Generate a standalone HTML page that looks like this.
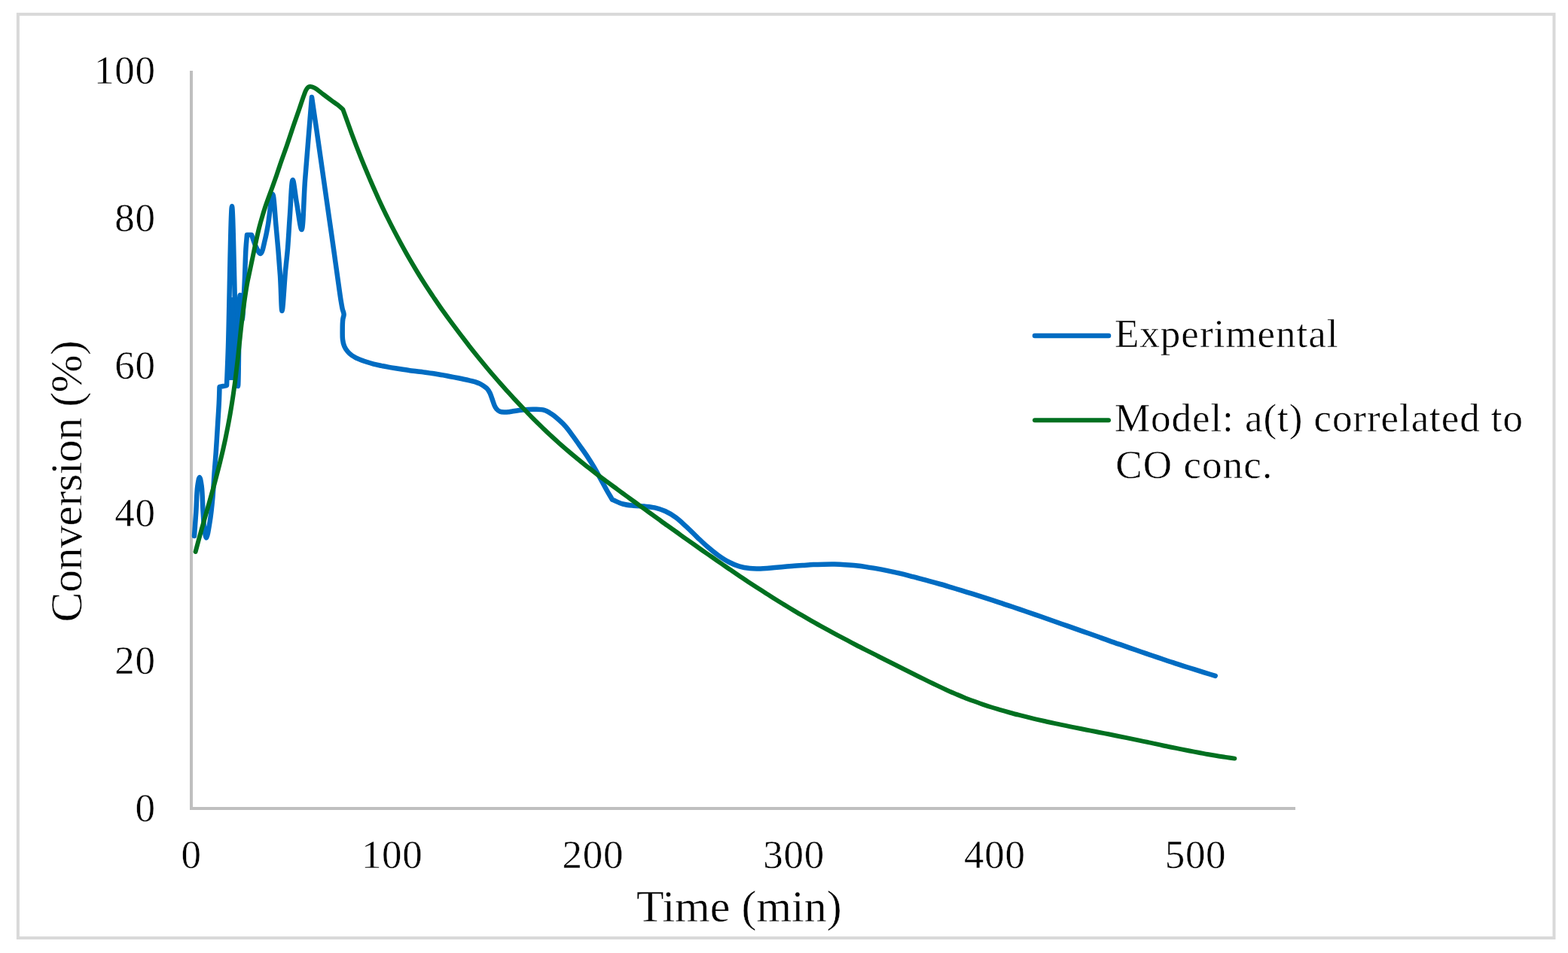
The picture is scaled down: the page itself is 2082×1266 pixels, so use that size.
<!DOCTYPE html>
<html><head><meta charset="utf-8"><title>Conversion vs Time</title>
<style>
html,body{margin:0;padding:0;background:#fff;}
svg{display:block;}
text{font-family:'Liberation Serif', 'Times New Roman', serif;fill:#000;stroke:#fff;stroke-width:0.5px;paint-order:fill;}
</style></head><body>
<svg width="2082" height="1266" viewBox="0 0 2082 1266">
<rect x="0" y="0" width="2082" height="1266" fill="#fff"/>
<rect x="23.9" y="18.9" width="2039.6" height="1227.1" fill="none" stroke="#d9d9d9" stroke-width="4"/>
<g stroke="#bfbfbf" stroke-width="4" fill="none">
<line x1="254" y1="94" x2="254" y2="1076"/>
<line x1="252" y1="1074" x2="1720" y2="1074"/>
</g>
<g font-size="53" letter-spacing="0.7">
<text x="206.7" y="1090.5" text-anchor="end">0</text>
<text x="206.7" y="894.5" text-anchor="end">20</text>
<text x="206.7" y="698.5" text-anchor="end">40</text>
<text x="206.7" y="502.5" text-anchor="end">60</text>
<text x="206.7" y="306.5" text-anchor="end">80</text>
<text x="206.7" y="110.5" text-anchor="end">100</text>
<text x="254.0" y="1153" text-anchor="middle">0</text>
<text x="520.7" y="1153" text-anchor="middle">100</text>
<text x="787.4" y="1153" text-anchor="middle">200</text>
<text x="1054.1" y="1153" text-anchor="middle">300</text>
<text x="1320.8" y="1153" text-anchor="middle">400</text>
<text x="1587.5" y="1153" text-anchor="middle">500</text>
</g>
<text x="981.3" y="1224" font-size="60" text-anchor="middle">Time (min)</text>
<text transform="translate(108 639.5) rotate(-90)" font-size="60" letter-spacing="-0.55" text-anchor="middle">Conversion (%)</text>
<path d="M258.0 712.0 C258.8 701.3 259.6 690.8 260.3 680.0 C261.0 668.8 261.1 654.4 262.3 646.0 C263.0 640.9 264.1 634.0 265.0 634.0 C265.9 634.0 267.0 640.9 267.7 646.0 C268.9 654.4 268.9 669.7 269.6 680.0 C270.2 688.7 270.5 697.7 271.5 704.0 C272.2 708.2 273.1 714.5 274.0 714.5 C275.3 714.5 277.2 701.7 278.5 694.0 C280.2 684.1 281.5 671.0 282.5 660.0 C283.4 649.7 283.8 640.0 284.5 630.0 C285.2 620.0 286.1 610.4 286.8 600.0 C287.6 588.8 288.3 576.2 289.0 565.0 C289.6 554.6 290.4 544.1 290.8 535.0 C291.2 527.4 291.3 521.0 291.5 514.0 C294.7 513.3 297.8 512.7 301.0 512.0 C301.7 494.7 302.3 482.7 303.0 460.0 C304.4 417.1 306.3 274.0 308.0 274.0 C309.6 274.0 311.4 395.9 313.0 440.0 C314.0 469.3 315.1 513.0 316.0 513.0 C317.1 513.0 317.2 392.0 318.7 392.0 C319.5 392.0 320.6 425.0 321.5 425.0 C322.5 425.0 323.7 395.4 324.5 380.0 C325.4 363.8 325.7 342.5 326.5 330.0 C327.0 322.5 327.5 318.0 328.0 312.0 C330.0 312.0 332.0 312.0 334.0 312.0 C336.0 317.3 337.7 323.5 340.0 328.0 C341.8 331.6 344.2 337.3 346.0 337.0 C348.4 336.7 350.3 324.5 352.0 318.0 C353.7 311.5 354.6 305.8 356.0 298.0 C357.9 287.0 360.3 258.0 362.0 258.0 C363.8 258.0 365.0 284.4 366.5 300.0 C368.4 319.5 370.6 345.9 372.0 366.0 C373.2 383.0 373.4 413.0 374.5 413.0 C375.7 413.0 377.6 375.2 379.0 360.0 C380.1 348.6 381.1 341.0 382.0 330.0 C383.1 316.5 383.9 300.1 385.0 285.0 C386.1 269.7 387.0 239.1 388.7 239.0 C390.1 238.9 392.1 259.4 394.0 270.0 C396.0 281.3 398.8 305.1 400.5 305.0 C402.8 304.9 403.2 264.5 405.0 240.0 C407.4 207.9 411.0 166.0 414.0 129.0 C416.0 142.7 418.0 156.2 420.0 170.0 C422.0 183.9 424.0 198.0 426.0 212.0 C428.0 226.0 430.0 240.0 432.0 254.0 C434.0 268.0 436.0 282.0 438.0 296.0 C440.0 310.0 442.1 324.3 444.0 338.0 C445.8 351.0 447.7 364.9 449.3 376.0 C450.5 384.6 451.6 392.6 452.6 399.0 C453.4 403.7 454.0 407.6 454.8 411.0 C455.4 413.5 456.5 415.3 456.6 417.5 C456.7 419.7 455.6 421.4 455.3 424.0 C454.8 427.8 454.7 433.4 454.7 438.0 C454.7 442.4 454.5 447.1 455.0 451.0 C455.4 454.3 456.0 457.3 457.2 460.0 C458.3 462.6 459.9 465.0 461.6 467.0 C463.2 468.9 465.1 470.6 467.0 472.0 C468.9 473.4 471.1 474.5 473.2 475.6 C475.4 476.7 477.7 477.6 480.0 478.5 C482.4 479.4 484.8 480.2 487.4 481.0 C490.2 481.9 493.0 482.8 496.0 483.6 C499.3 484.5 503.0 485.2 506.4 485.9 C509.5 486.5 512.4 487.1 515.5 487.6 C518.7 488.2 522.0 488.7 525.3 489.2 C528.5 489.7 531.8 490.3 535.0 490.8 C538.1 491.3 541.2 491.8 544.3 492.2 C547.2 492.6 550.1 492.9 553.0 493.3 C556.0 493.7 559.0 494.0 562.0 494.4 C565.0 494.8 568.1 495.2 571.0 495.6 C573.7 496.0 576.2 496.4 579.0 496.8 C582.0 497.3 585.3 497.8 588.5 498.4 C591.6 499.0 594.8 499.6 597.9 500.2 C601.1 500.8 604.2 501.4 607.4 502.0 C610.6 502.6 614.0 503.4 616.9 504.0 C619.4 504.6 621.6 505.1 624.0 505.6 C626.4 506.2 629.0 506.6 631.1 507.3 C632.9 507.9 634.3 508.4 636.0 509.2 C637.8 510.1 639.8 511.2 641.6 512.4 C643.3 513.5 645.1 514.5 646.5 516.0 C648.1 517.6 649.4 519.8 650.5 522.0 C651.7 524.4 652.5 527.3 653.5 530.0 C654.5 532.8 655.4 536.1 656.5 538.5 C657.4 540.4 658.2 542.1 659.5 543.5 C660.7 544.9 662.3 546.1 664.0 546.8 C665.8 547.5 668.0 547.5 670.0 547.6 C672.0 547.7 674.2 547.4 676.0 547.2 C677.5 547.0 678.3 546.8 680.0 546.5 C683.3 546.0 689.2 544.9 694.2 544.4 C699.6 543.9 706.2 543.6 711.3 543.8 C715.5 543.9 719.2 543.9 722.7 544.9 C726.1 545.9 729.0 547.8 732.1 549.8 C735.4 551.9 738.5 554.5 741.6 557.2 C744.9 560.1 748.1 563.1 751.1 566.6 C754.4 570.4 757.5 574.8 760.6 579.1 C763.8 583.4 766.9 587.9 770.0 592.4 C773.2 596.9 776.4 601.2 779.5 605.9 C782.7 610.8 785.9 615.8 789.0 621.0 C792.2 626.5 795.5 632.7 798.5 638.1 C801.2 642.9 803.5 647.4 806.0 651.8 C808.3 655.9 810.7 659.8 813.0 663.8 C817.7 665.7 822.2 668.2 827.0 669.5 C831.6 670.8 836.4 671.2 841.1 671.7 C845.8 672.2 850.4 672.2 855.1 672.6 C859.8 673.1 864.6 673.4 869.2 674.4 C873.9 675.5 878.6 676.9 883.2 679.0 C888.0 681.2 892.8 684.1 897.3 687.4 C902.1 690.9 906.7 695.4 911.3 699.6 C916.1 704.0 920.7 708.8 925.4 713.3 C930.1 717.7 934.6 722.2 939.4 726.3 C944.0 730.3 948.7 734.2 953.5 737.6 C958.1 740.9 962.7 744.0 967.5 746.5 C972.1 748.9 976.8 751.0 981.6 752.4 C986.2 753.8 990.9 754.6 995.6 755.1 C1000.3 755.6 1005.0 755.5 1009.7 755.4 C1014.4 755.3 1019.0 754.8 1023.7 754.4 C1028.4 754.0 1033.1 753.6 1037.8 753.2 C1042.5 752.8 1047.1 752.4 1051.8 752.0 C1056.5 751.6 1061.2 751.3 1065.9 751.0 C1070.6 750.7 1075.2 750.3 1079.9 750.1 C1084.6 749.9 1089.2 749.8 1093.9 749.7 C1098.6 749.6 1103.3 749.5 1108.0 749.6 C1112.7 749.7 1117.3 749.9 1122.0 750.2 C1126.7 750.5 1131.4 750.8 1136.1 751.3 C1140.8 751.8 1145.4 752.4 1150.1 753.1 C1154.8 753.8 1159.5 754.6 1164.2 755.4 C1168.9 756.2 1173.5 757.1 1178.2 758.1 C1182.9 759.1 1187.6 760.1 1192.3 761.2 C1197.0 762.3 1201.6 763.4 1206.3 764.6 C1211.0 765.8 1215.7 767.0 1220.4 768.3 C1225.1 769.5 1229.7 770.8 1234.4 772.1 C1239.1 773.4 1243.8 774.7 1248.5 776.0 C1253.2 777.3 1257.8 778.7 1262.5 780.1 C1267.2 781.5 1271.9 783.0 1276.6 784.4 C1281.3 785.8 1285.9 787.3 1290.6 788.7 C1295.3 790.2 1300.0 791.6 1304.7 793.1 C1309.4 794.6 1314.0 796.2 1318.7 797.7 C1323.4 799.2 1328.1 800.7 1332.8 802.3 C1337.5 803.8 1342.1 805.4 1346.8 807.0 C1351.5 808.6 1356.1 810.2 1360.8 811.8 C1365.5 813.4 1370.2 815.0 1374.9 816.6 C1379.6 818.2 1384.2 819.9 1388.9 821.5 C1393.6 823.2 1398.3 824.8 1403.0 826.5 C1407.7 828.1 1412.3 829.8 1417.0 831.4 C1421.7 833.1 1426.4 834.7 1431.1 836.4 C1435.8 838.0 1440.4 839.7 1445.1 841.3 C1449.8 843.0 1454.5 844.6 1459.2 846.3 C1463.9 848.0 1468.5 849.7 1473.2 851.3 C1477.9 853.0 1482.6 854.6 1487.3 856.2 C1492.0 857.8 1496.6 859.5 1501.3 861.1 C1506.0 862.7 1510.7 864.4 1515.4 866.0 C1520.1 867.6 1524.7 869.2 1529.4 870.8 C1534.1 872.4 1538.8 873.9 1543.5 875.5 C1548.2 877.1 1552.8 878.7 1557.5 880.2 C1562.2 881.8 1566.9 883.3 1571.6 884.8 C1576.3 886.3 1580.9 887.7 1585.6 889.2 C1590.3 890.7 1595.0 892.1 1599.7 893.6 C1604.4 895.0 1609.0 896.5 1613.7 897.9" fill="none" stroke="#006cc2" stroke-width="6.5" stroke-linejoin="round" stroke-linecap="round"/>
<polygon points="302.5,505 305.5,395 311.5,395 314.5,505" fill="#006cc2"/>
<path d="M259.6 733.0 C260.9 728.0 262.3 723.0 263.6 718.0 C265.0 713.0 266.3 708.0 267.7 703.0 C269.1 698.0 270.6 693.0 272.0 688.0 C273.4 683.0 274.9 678.0 276.3 673.0 C277.7 668.0 279.1 663.0 280.5 658.0 C281.9 653.0 283.3 648.0 284.7 643.0 C286.0 638.0 287.3 633.0 288.6 628.0 C289.9 623.0 291.2 618.0 292.4 613.0 C293.6 608.0 294.8 603.0 296.0 598.0 C297.1 593.0 298.2 588.0 299.3 583.0 C300.3 578.0 301.3 573.0 302.3 568.0 C303.3 563.0 304.2 558.0 305.1 553.0 C306.0 548.0 306.8 543.0 307.6 538.0 C308.4 533.0 309.2 528.0 309.9 523.0 C310.6 518.0 311.3 513.0 312.0 508.0 C312.6 503.0 313.2 498.0 313.8 493.0 C314.4 488.0 315.0 483.0 315.6 478.0 C316.2 473.0 316.7 468.0 317.2 463.0 C317.7 458.0 318.3 453.0 318.8 448.0 C319.3 443.0 319.8 438.0 320.4 433.0 C321.0 428.0 321.6 423.0 322.2 418.0 C322.8 413.0 323.4 408.0 324.1 403.0 C324.8 398.0 325.5 393.0 326.3 388.0 C327.1 383.0 327.9 378.0 328.9 373.0 C329.9 368.0 331.0 363.3 332.1 358.0 C333.3 352.2 334.7 345.7 336.0 339.5 C337.3 333.2 338.6 326.7 340.0 320.5 C341.3 314.5 342.6 308.5 344.0 303.0 C345.3 297.9 346.6 293.2 348.0 288.5 C349.3 284.0 350.6 279.7 352.0 275.5 C353.3 271.5 354.5 268.1 356.0 264.0 C357.7 259.3 359.7 254.0 361.5 249.0 C363.3 243.9 365.2 238.6 367.0 233.5 C368.7 228.5 370.1 224.1 372.0 218.5 C374.5 211.1 378.3 200.8 381.0 193.0 C383.2 186.5 385.1 180.7 387.0 175.0 C388.7 169.8 390.3 165.2 392.0 160.2 C393.7 155.2 395.7 149.7 397.3 145.0 C398.7 141.0 399.8 137.4 401.0 134.0 C402.0 131.0 403.0 128.1 404.0 125.5 C404.9 123.2 405.6 120.8 406.7 119.0 C407.5 117.6 408.4 116.2 409.5 115.6 C410.4 115.1 411.4 114.9 412.5 115.0 C414.0 115.1 415.9 115.7 417.9 116.8 C421.2 118.5 425.6 122.6 429.5 125.5 C433.3 128.4 437.6 131.6 441.0 134.1 C443.7 136.0 445.8 137.4 448.2 139.2 C450.6 141.1 453.0 143.3 455.4 145.4 C459.4 156.5 463.4 167.8 467.4 178.7 C471.3 189.2 475.3 199.6 479.3 209.7 C483.2 219.5 487.3 229.1 491.3 238.5 C495.2 247.6 499.2 256.6 503.2 265.4 C507.1 273.9 511.1 282.3 515.2 290.5 C519.1 298.5 523.2 306.3 527.2 313.9 C531.1 321.3 535.1 328.6 539.1 335.8 C543.0 342.8 547.1 349.7 551.1 356.4 C555.0 363.0 559.0 369.4 563.0 375.7 C566.9 381.9 571.0 387.9 575.0 393.9 C579.0 399.8 582.9 405.6 586.9 411.3 C590.9 416.9 594.9 422.4 598.9 427.8 C602.9 433.2 606.9 438.5 610.9 443.8 C614.9 449.0 618.8 454.2 622.8 459.3 C626.8 464.4 630.8 469.4 634.8 474.3 C638.8 479.2 642.7 484.0 646.7 488.8 C650.7 493.6 654.7 498.3 658.7 502.9 C662.7 507.5 666.7 512.0 670.7 516.5 C674.7 520.9 678.6 525.3 682.6 529.6 C686.6 533.9 690.6 538.1 694.6 542.3 C698.6 546.4 702.5 550.6 706.5 554.6 C710.5 558.6 714.5 562.5 718.5 566.4 C722.5 570.2 726.4 574.1 730.4 577.8 C734.4 581.5 738.4 585.1 742.4 588.7 C746.4 592.2 750.4 595.7 754.4 599.1 C758.4 602.5 762.3 605.8 766.3 609.1 C770.3 612.4 774.3 615.6 778.3 618.8 C782.3 621.9 786.2 625.0 790.2 628.1 C794.2 631.2 798.2 634.2 802.2 637.2 C806.2 640.2 810.2 643.1 814.2 646.0 C818.2 648.9 822.1 651.9 826.1 654.8 C830.1 657.7 834.1 660.6 838.1 663.5 C842.1 666.4 846.0 669.2 850.0 672.1 C854.0 675.0 858.0 677.8 862.0 680.7 C866.0 683.6 870.0 686.5 874.0 689.4 C878.0 692.3 881.9 695.2 885.9 698.0 C889.9 700.9 893.9 703.6 897.9 706.5 C901.9 709.3 905.8 712.3 909.8 715.1 C913.8 717.9 917.8 720.7 921.8 723.5 C925.8 726.3 929.7 729.2 933.7 732.0 C937.7 734.8 941.7 737.5 945.7 740.3 C949.7 743.1 953.7 745.8 957.7 748.6 C961.7 751.3 965.6 754.1 969.6 756.8 C973.6 759.5 977.6 762.2 981.6 764.9 C985.6 767.6 989.5 770.3 993.5 772.9 C997.5 775.5 1001.5 778.1 1005.5 780.7 C1009.5 783.3 1013.5 785.8 1017.5 788.4 C1021.5 790.9 1025.4 793.5 1029.4 796.0 C1033.4 798.5 1037.4 801.0 1041.4 803.4 C1045.4 805.8 1049.3 808.2 1053.3 810.6 C1057.3 813.0 1061.3 815.4 1065.3 817.7 C1069.3 820.0 1073.2 822.3 1077.2 824.6 C1081.2 826.9 1085.2 829.1 1089.2 831.3 C1093.2 833.5 1097.2 835.7 1101.2 837.9 C1105.2 840.1 1109.1 842.3 1113.1 844.4 C1117.1 846.5 1121.1 848.6 1125.1 850.7 C1129.1 852.8 1133.0 854.9 1137.0 857.0 C1141.0 859.1 1145.0 861.1 1149.0 863.1 C1153.0 865.1 1157.0 867.2 1161.0 869.2 C1165.0 871.2 1168.9 873.3 1172.9 875.3 C1176.9 877.3 1180.9 879.3 1184.9 881.3 C1188.9 883.3 1192.8 885.3 1196.8 887.3 C1200.8 889.3 1204.8 891.2 1208.8 893.2 C1212.8 895.2 1216.7 897.2 1220.7 899.2 C1224.7 901.2 1228.7 903.1 1232.7 905.1 C1236.7 907.0 1240.7 909.0 1244.7 910.9 C1248.7 912.8 1252.6 914.6 1256.6 916.4 C1260.6 918.2 1264.6 920.0 1268.6 921.7 C1272.6 923.4 1276.5 925.1 1280.5 926.7 C1284.5 928.3 1288.5 929.8 1292.5 931.3 C1296.5 932.8 1300.5 934.2 1304.5 935.6 C1308.5 937.0 1312.4 938.3 1316.4 939.5 C1320.4 940.8 1324.4 941.9 1328.4 943.1 C1332.4 944.3 1336.3 945.4 1340.3 946.5 C1344.3 947.6 1348.3 948.7 1352.3 949.7 C1356.3 950.7 1360.3 951.7 1364.3 952.7 C1368.3 953.7 1372.2 954.7 1376.2 955.6 C1380.2 956.5 1384.2 957.4 1388.2 958.3 C1392.2 959.2 1396.1 960.1 1400.1 960.9 C1404.1 961.8 1408.1 962.6 1412.1 963.4 C1416.1 964.2 1420.0 965.1 1424.0 965.9 C1428.0 966.7 1432.0 967.5 1436.0 968.3 C1440.0 969.1 1444.0 969.8 1448.0 970.6 C1452.0 971.4 1455.9 972.2 1459.9 973.0 C1463.9 973.8 1467.9 974.5 1471.9 975.3 C1475.9 976.1 1479.8 976.9 1483.8 977.7 C1487.8 978.5 1491.8 979.3 1495.8 980.1 C1499.8 980.9 1503.8 981.8 1507.8 982.6 C1511.8 983.4 1515.7 984.3 1519.7 985.1 C1523.7 985.9 1527.7 986.7 1531.7 987.6 C1535.7 988.4 1539.6 989.4 1543.6 990.2 C1547.6 991.1 1551.6 991.9 1555.6 992.7 C1559.6 993.5 1563.5 994.3 1567.5 995.1 C1571.5 995.9 1575.5 996.7 1579.5 997.5 C1583.5 998.3 1587.5 999.0 1591.5 999.8 C1595.5 1000.5 1599.4 1001.3 1603.4 1002.0 C1607.4 1002.7 1611.4 1003.3 1615.4 1004.0 C1619.4 1004.6 1623.3 1005.3 1627.3 1005.9 C1631.3 1006.5 1635.3 1007.0 1639.3 1007.6" fill="none" stroke="#007020" stroke-width="6" stroke-linejoin="round" stroke-linecap="round"/>
<line x1="1374" y1="446" x2="1472" y2="446" stroke="#006cc2" stroke-width="6.5" stroke-linecap="round"/>
<line x1="1374" y1="558.3" x2="1472" y2="558.3" stroke="#007020" stroke-width="6" stroke-linecap="round"/>
<g font-size="53" letter-spacing="1">
<text x="1480" y="461">Experimental</text>
<text x="1480" y="573" letter-spacing="0.94">Model: a(t) correlated to</text>
<text x="1481.3" y="635" letter-spacing="1.1">CO conc.</text>
</g>
</svg>
</body></html>
